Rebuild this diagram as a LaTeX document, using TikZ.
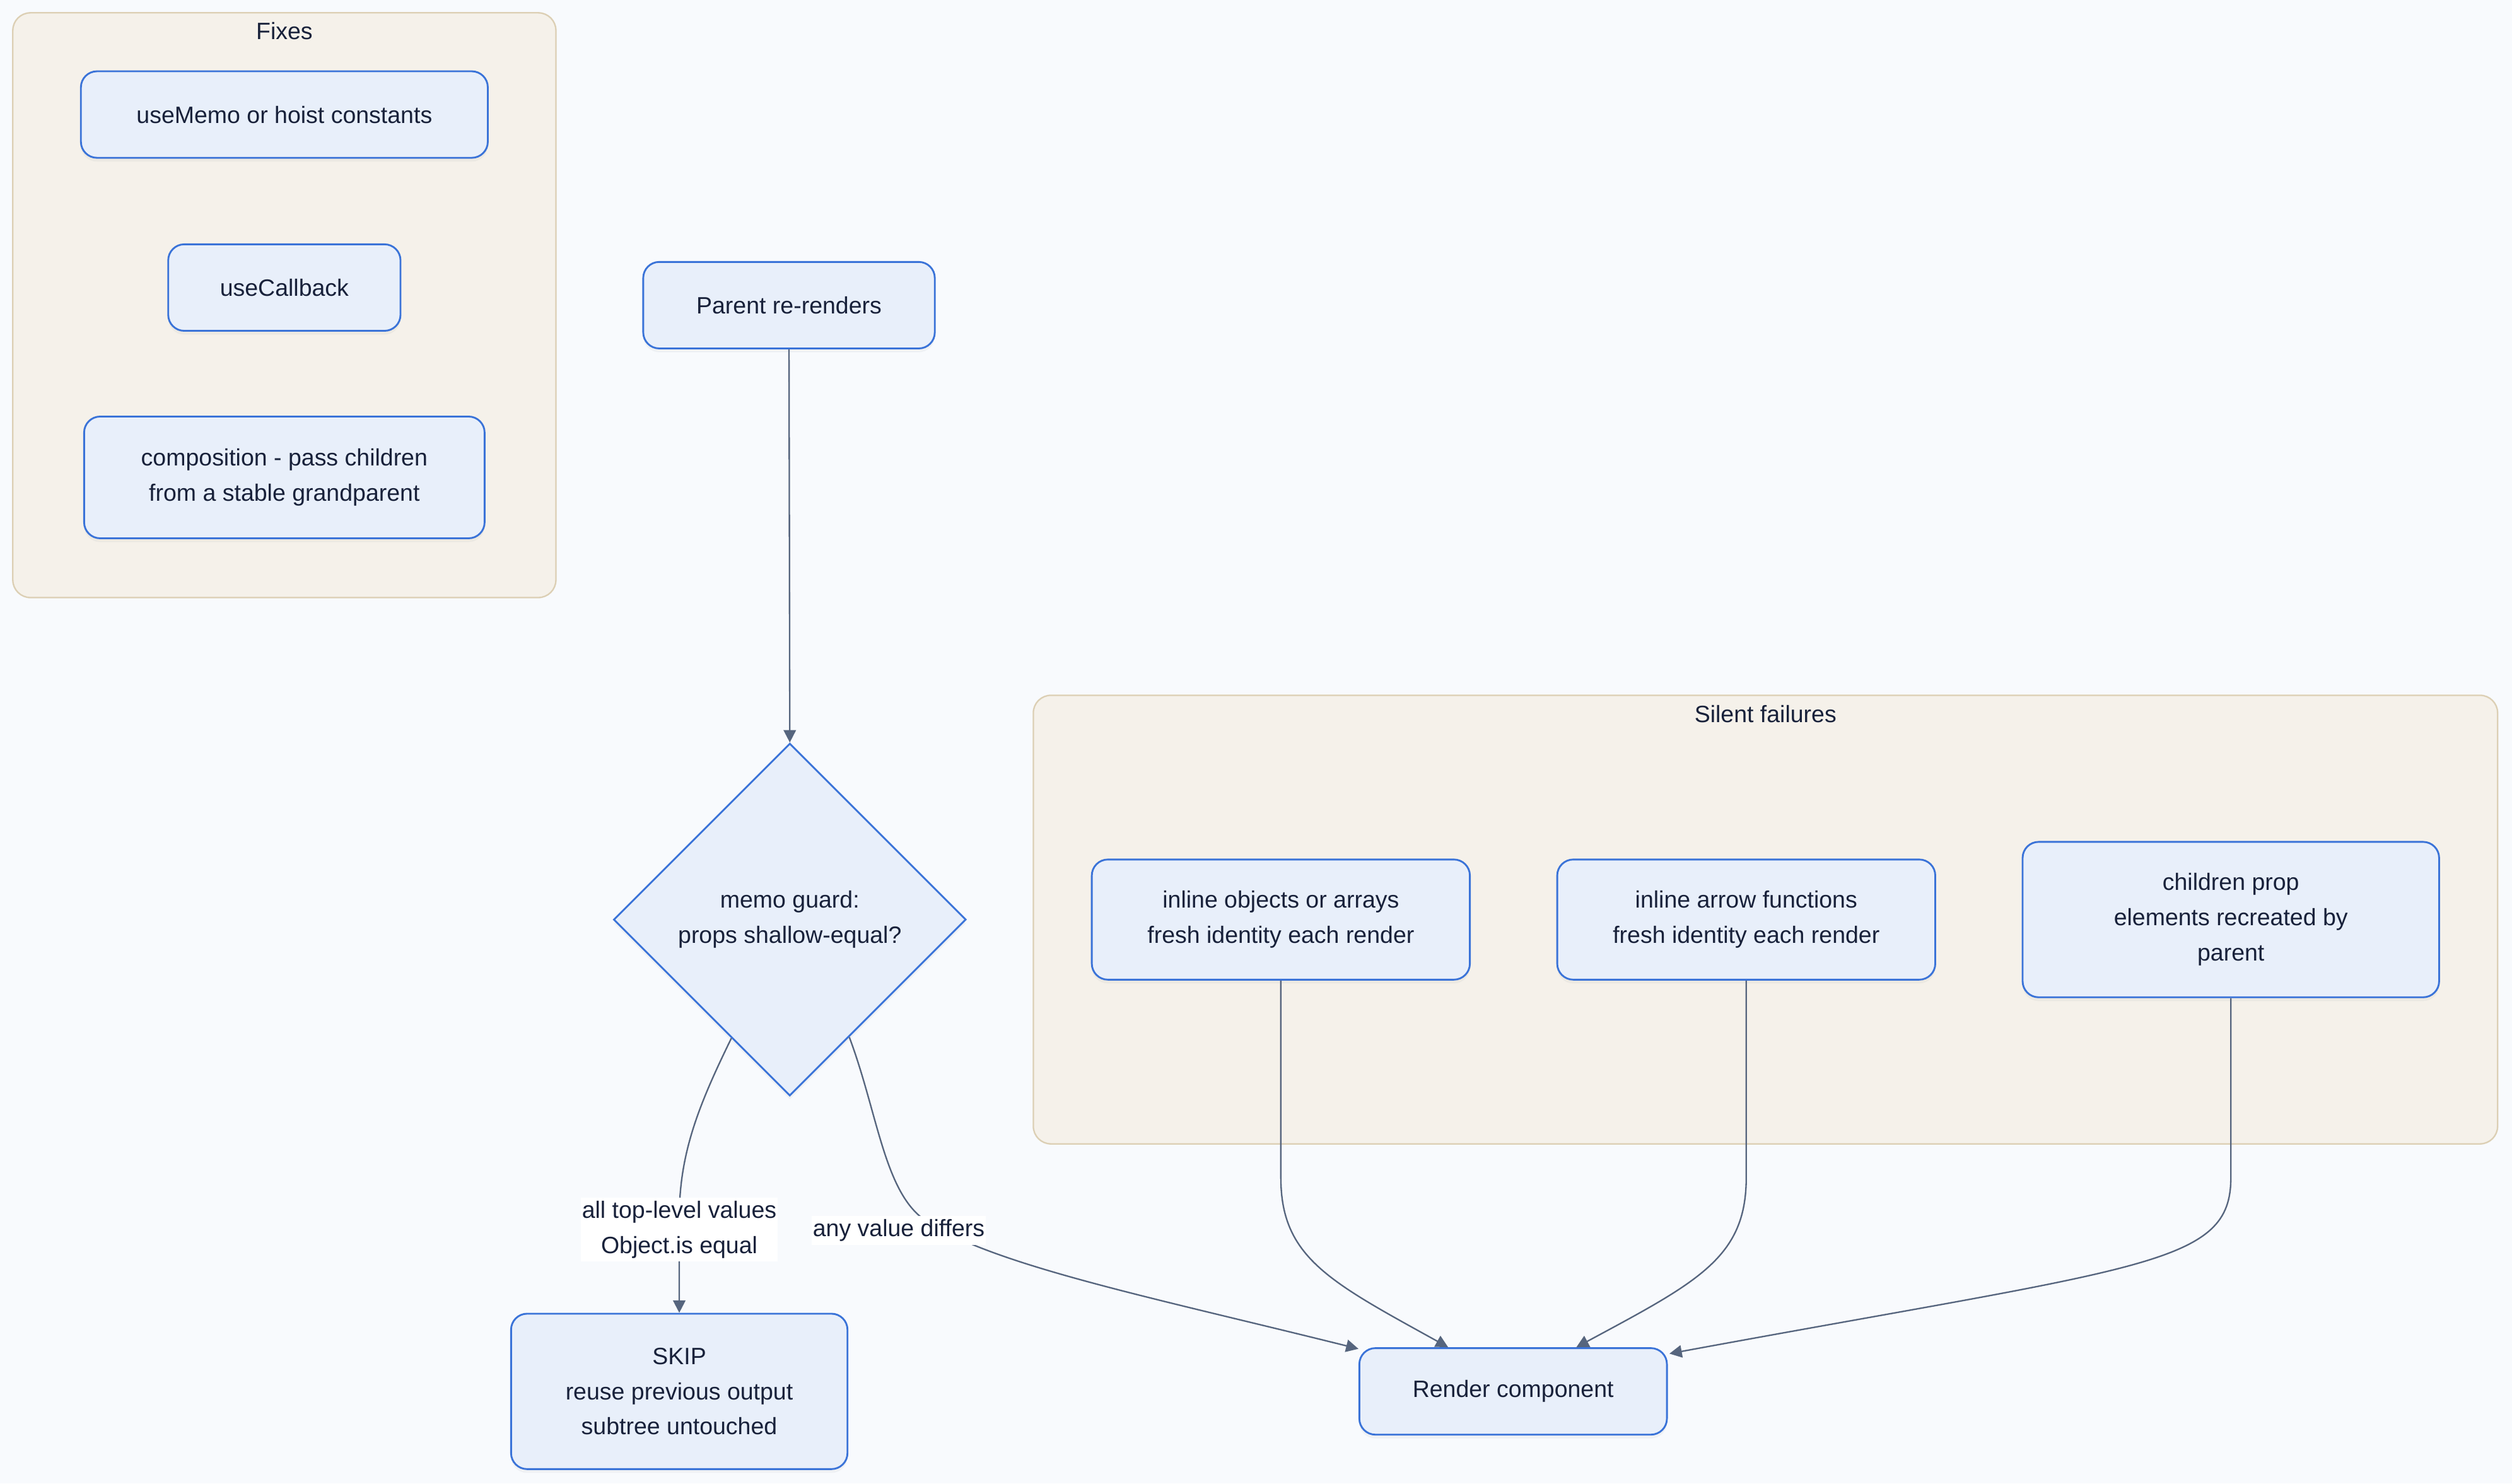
\documentclass[tikz,border=0pt]{standalone}
\usepackage{fontspec}
\setmainfont{Liberation Sans}
\usetikzlibrary{shapes.geometric,arrows.meta,calc,shadows}
\definecolor{bg}{HTML}{F8FAFD}
\definecolor{clfill}{HTML}{F5F1EA}
\definecolor{cldraw}{HTML}{DCCFB4}
\definecolor{nfill}{HTML}{E8EFFA}
\definecolor{ndraw}{HTML}{3A73D8}
\definecolor{txt}{HTML}{18213A}
\definecolor{edgec}{HTML}{56657E}
\begin{document}
\begin{tikzpicture}[x=0.05cm,y=-0.05cm,
  font=\fontsize{21}{31.3}\selectfont,
  cluster/.style={draw=cldraw,fill=clfill,line width=1.3pt,rounded corners=0.55cm},
  cltitle/.style={text=txt,inner sep=0pt},
  box/.style={draw=ndraw,fill=nfill,line width=1.6pt,rounded corners=0.5cm,align=center,text=txt,inner sep=0pt,
    drop shadow={opacity=0.07,shadow xshift=0pt,shadow yshift=-0.12cm}},
  decision/.style={diamond,draw=ndraw,fill=nfill,line width=1.6pt,align=center,text=txt,inner sep=0pt,
    minimum width=11cm,minimum height=11cm,
    drop shadow={opacity=0.07,shadow xshift=0pt,shadow yshift=-0.12cm}},
  elabel/.style={fill=white,text=txt,align=center,inner xsep=1pt,inner ysep=3pt},
  conn/.style={draw=edgec,line width=1.3pt,-{Triangle[length=11pt,width=11pt]}}
]
\fill[bg] (0,0) rectangle (1568,926);
\useasboundingbox (0,0) rectangle (1568,926);

% clusters
\draw[cluster] (8,8) rectangle (347,373);
\node[cltitle] (fixtitle) at (177.5,19.5) {Fixes};
\draw[cluster] (645,434) rectangle (1559,714);
\node[cltitle] (silenttitle) at (1102,445.5) {Silent failures};

% nodes
\node[box,minimum width=12.7cm,minimum height=2.7cm] (usememo) at (177.5,71.5) {useMemo or hoist constants};
\node[box,minimum width=7.25cm,minimum height=2.7cm] (usecb) at (177.5,179.5) {useCallback};
\node[box,minimum width=12.5cm,minimum height=3.8cm] (comp) at (177.5,298) {composition - pass children\\from a stable grandparent};
\node[box,minimum width=9.1cm,minimum height=2.7cm] (parent) at (492.5,190.5) {Parent re-renders};
\node[decision] (guard) at (493,574) {memo guard:\\props shallow-equal?};
\node[box,minimum width=10.5cm,minimum height=4.85cm] (skip) at (424,868.5) {SKIP\\reuse previous output\\subtree untouched};
\node[box,minimum width=9.6cm,minimum height=2.7cm] (render) at (944.5,868.5) {Render component};
\node[box,minimum width=11.8cm,minimum height=3.75cm] (inobj) at (799.5,574) {inline objects or arrays\\fresh identity each render};
\node[box,minimum width=11.8cm,minimum height=3.75cm] (inarr) at (1090,574) {inline arrow functions\\fresh identity each render};
\node[box,minimum width=13cm,minimum height=4.85cm] (child) at (1392.5,574) {children prop\\elements recreated by\\parent};

% connectors
\draw[conn] (parent.south) -- (guard.north);
\coordinate (gl) at ($(guard.west)!0.67!(guard.south)$);
\coordinate (gr) at ($(guard.south)!0.336!(guard.east)$);
\draw[conn] (gl) .. controls (436,690) and (424,720) .. (424,760) -- (skip.north);
\draw[conn] (gr) .. controls (548,695) and (552,745) .. (578,762)
   .. controls (620,790) and (720,810) .. ($(render.north west)+(0,1)$);
\draw[conn] (inobj.south) -- (799.5,735) .. controls (799.5,785) and (830,800) .. ($(render.north west)+(56,0)$);
\draw[conn] (inarr.south) -- (1090,735) .. controls (1090,785) and (1060,800) .. ($(render.north west)+(136,0)$);
\draw[conn] (child.south) -- (1392.5,735) .. controls (1392.5,790) and (1340,790) .. ($(render.north east)+(1,4)$);

% edge labels
\node[elabel] (lblsame) at (424,767.5) {all top-level values\\Object.is equal};
\node[elabel] (lbldiff) at (561,768) {any value differs};
\end{tikzpicture}
\end{document}
